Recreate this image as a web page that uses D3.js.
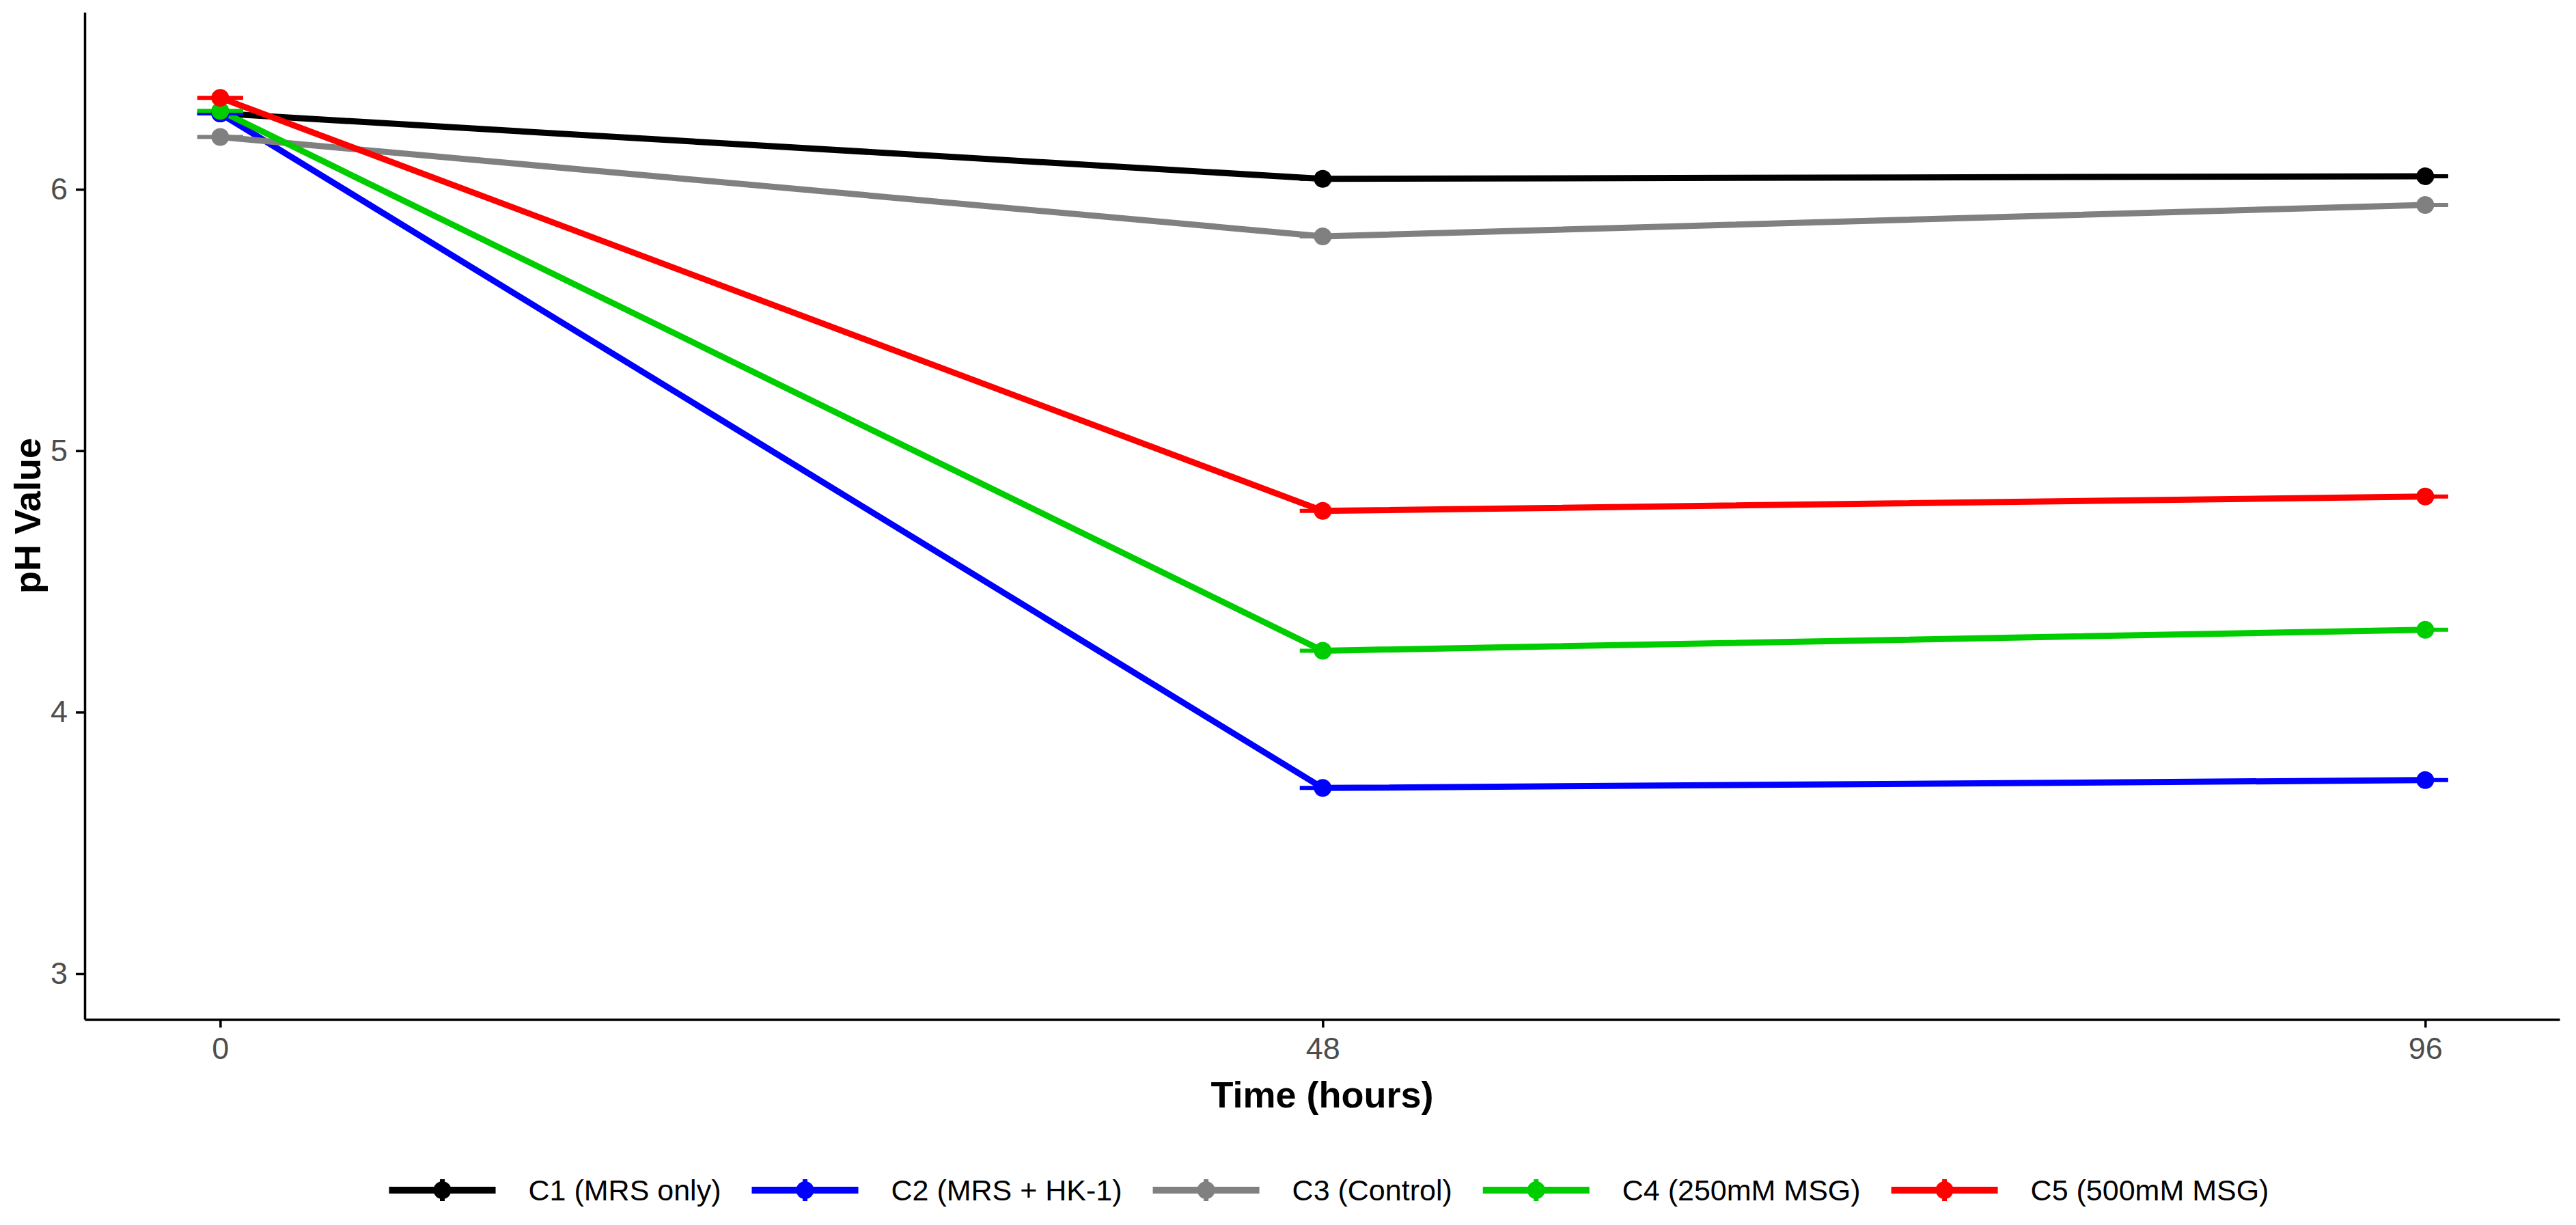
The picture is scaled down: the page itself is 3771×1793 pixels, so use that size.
<!DOCTYPE html>
<html>
<head>
<meta charset="utf-8">
<script src="https://cdn.jsdelivr.net/npm/d3@7"></script>
<style>
	body { margin: 0; background: #ffffff; }
	svg { display: block; font-family: "Liberation Sans", Arial, sans-serif; }
</style>
</head>
<body>
<div id="chart"></div>
<script>
// time points (hours) and tick labels
const hours = [0, 48, 96]
const xTicks = [0, 48, 96]
const yTicks = [3, 4, 5, 6]

// mean pH per group
const seriesNames = ['C1 (MRS only)', 'C2 (MRS + HK-1)', 'C3 (Control)', 'C4 (250mM MSG)', 'C5 (500mM MSG)']
const c1 = [6.29, 6.04, 6.05]
const c2 = [6.29, 3.71, 3.74]
const c3 = [6.20, 5.82, 5.94]
const c4 = [6.30, 4.235, 4.315]
const c5 = [6.35, 4.77, 4.825]

const seriesColours = ['#000000', '#0000FF', '#808080', '#00CD00', '#FF0000']

function buildSeries(){
	let values = [c1, c2, c3, c4, c5]
	return values.map(function(v, i){
		return {
			'name': seriesNames[i],
			'colour': seriesColours[i],
			'data': v.map(function(y, j){ return {'x': hours[j], 'y': y} })
		}
	})
}

function drawChart(series){
	let width = 3771, height = 1793
	let panel = {left: 124, right: 3747, top: 18, bottom: 1492}

	let svg = d3.select('#chart')
	  .append('svg')
	    .attr('width', width)
	    .attr('height', height)

	svg.append('rect')
		.attr('width', width)
		.attr('height', height)
		.attr('fill', '#ffffff')

	let x = d3.scaleLinear()
		.domain([-5.9, 101.85])
		.range([panel.left, panel.right])

	let y = d3.scaleLinear()
		.domain([2.825, 6.677])
		.range([panel.bottom, panel.top])

	// axes
	let xAxis = svg.append('g')
		.attr('transform', 'translate(0,' + panel.bottom + ')')
		.call(d3.axisBottom(x).tickValues(xTicks).tickFormat(d3.format('d'))
			.tickSize(12).tickPadding(14).tickSizeOuter(0))
	let yAxis = svg.append('g')
		.attr('transform', 'translate(' + panel.left + ',0)')
		.call(d3.axisLeft(y).tickValues(yTicks).tickFormat(d3.format('d'))
			.tickSize(13).tickPadding(12).tickSizeOuter(0))

	;[xAxis, yAxis].forEach(function(a){
		a.select('.domain').attr('stroke', '#000000').attr('stroke-width', 3.5)
		a.selectAll('.tick line').attr('stroke', '#000000').attr('stroke-width', 3.5)
		a.selectAll('.tick text')
			.attr('fill', '#4D4D4D')
			.style('font-size', '45px')
			.style('font-family', '"Liberation Sans", Arial, sans-serif')
	})

	let line = d3.line()
		.x(function(d){ return x(d.x) })
		.y(function(d){ return y(d.y) })

	series.forEach(function(s){
		svg.append('path')
			.datum(s.data)
			.attr('fill', 'none')
			.attr('stroke', s.colour)
			.attr('stroke-width', 9)
			.attr('d', line)
	})

	// error bar whiskers (+/- 1 hour), spread too small to see
	series.forEach(function(s){
		svg.selectAll(null)
			.data(s.data)
			.enter()
			.append('line')
			.attr('x1', function(d){ return x(d.x - 1) })
			.attr('x2', function(d){ return x(d.x + 1) })
			.attr('y1', function(d){ return y(d.y) })
			.attr('y2', function(d){ return y(d.y) })
			.attr('stroke', s.colour)
			.attr('stroke-width', 6)
	})

	series.forEach(function(s){
		svg.selectAll(null)
			.data(s.data)
			.enter()
			.append('circle')
			.attr('cx', function(d){ return x(d.x) })
			.attr('cy', function(d){ return y(d.y) })
			.attr('r', 13)
			.attr('fill', s.colour)
	})

	// axis titles
	svg.append('text')
		.attr('x', (panel.left + panel.right) / 2)
		.attr('y', 1621)
		.attr('text-anchor', 'middle')
		.style('font-size', '54px')
		.style('font-weight', 'bold')
		.text('Time (hours)')

	svg.append('text')
		.attr('transform', 'translate(59,' + ((panel.top + panel.bottom) / 2) + ') rotate(-90)')
		.attr('text-anchor', 'middle')
		.style('font-size', '54px')
		.style('font-weight', 'bold')
		.text('pH Value')

	drawLegend(svg, series, (panel.left + panel.right) / 2 + 10, 1742)
}

function drawLegend(svg, series, centreX, centreY){
	let keyWidth = 156, textGap = 48, itemGap = 45
	let legend = svg.append('g')

	let offset = 0
	series.forEach(function(s){
		let item = legend.append('g').attr('transform', 'translate(' + offset + ',0)')
		item.append('line')
			.attr('x1', 0).attr('x2', keyWidth)
			.attr('y1', centreY).attr('y2', centreY)
			.attr('stroke', s.colour)
			.attr('stroke-width', 10)
		item.append('line')
			.attr('x1', keyWidth / 2).attr('x2', keyWidth / 2)
			.attr('y1', centreY - 16).attr('y2', centreY + 16)
			.attr('stroke', s.colour)
			.attr('stroke-width', 7)
		item.append('circle')
			.attr('cx', keyWidth / 2)
			.attr('cy', centreY)
			.attr('r', 13)
			.attr('fill', s.colour)
		let label = item.append('text')
			.attr('x', keyWidth + textGap)
			.attr('y', centreY)
			.attr('dy', '0.35em')
			.style('font-size', '43px')
			.attr('fill', '#000000')
			.text(s.name)
		offset += keyWidth + textGap + label.node().getComputedTextLength() + itemGap
	})
	let total = offset - itemGap
	legend.attr('transform', 'translate(' + (centreX - total / 2) + ',0)')
}

drawChart(buildSeries())
</script>
</body>
</html>
